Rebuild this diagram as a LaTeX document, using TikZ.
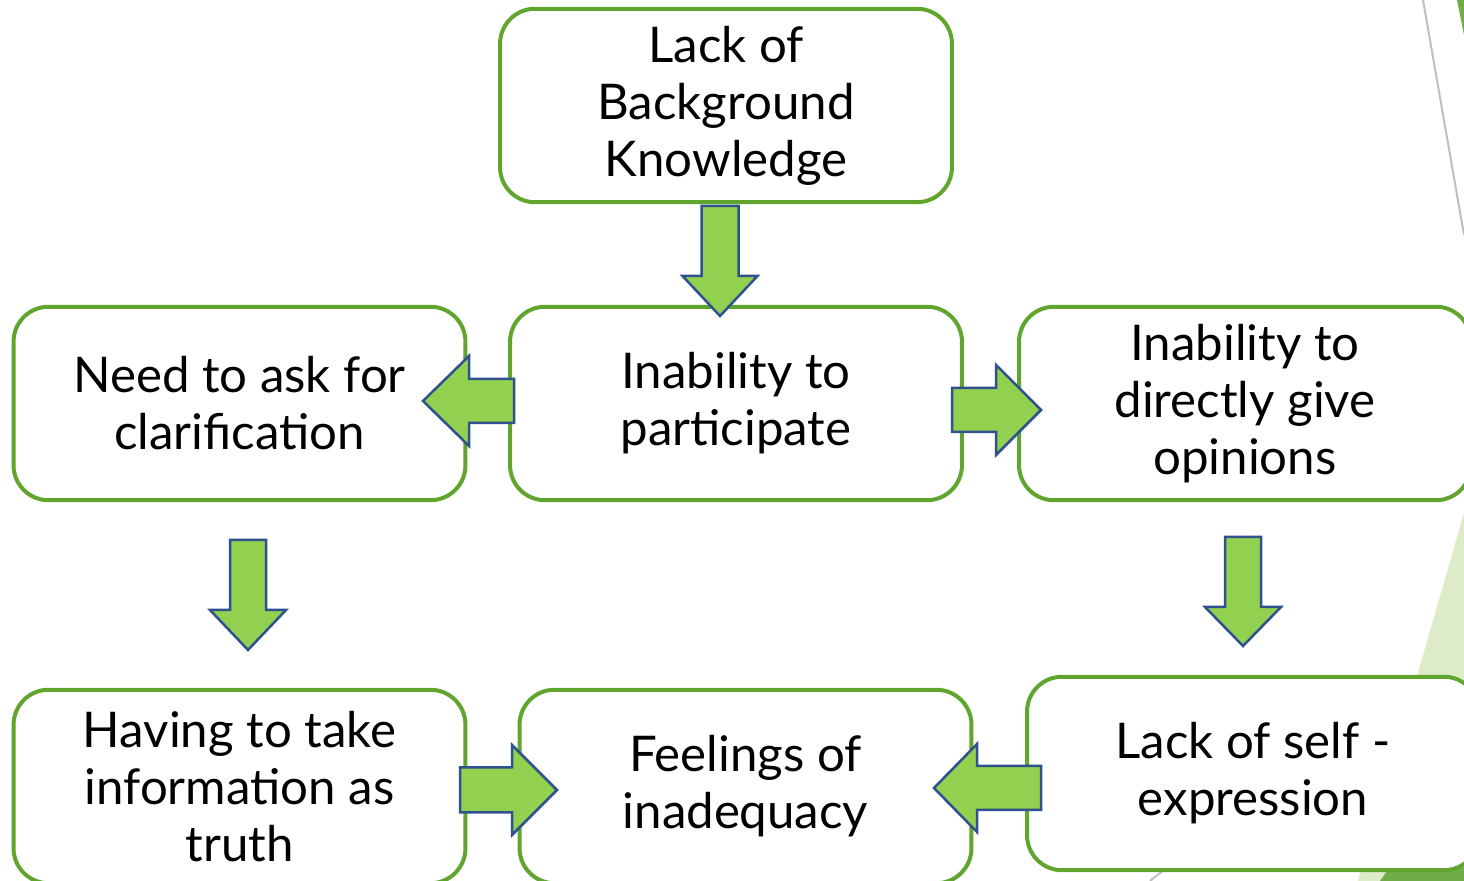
\documentclass[tikz,border=0pt]{standalone}
\usepackage{fontspec}
\setmainfont{Lato}
\usetikzlibrary{positioning}
\definecolor{boxgreen}{RGB}{96,165,45}
\definecolor{arrowfill}{RGB}{146,208,80}
\definecolor{arrowline}{RGB}{47,82,143}
\definecolor{themelight}{RGB}{222,235,200}
\definecolor{themedark}{RGB}{112,173,71}
\definecolor{themegray}{RGB}{191,191,191}

\begin{document}
\begin{tikzpicture}[x=0.02cm, y=0.02cm,
    causebox/.style={rectangle, rounded corners=0.7cm, draw=boxgreen, fill=white,
                line width=0.08cm, minimum width=9.04cm, minimum height=3.87cm,
                align=center, font=\fontsize{28pt}{32.4pt}\selectfont},
    pics/blockarrow/.style n args={4}{code={
        \draw[arrowline, fill=arrowfill, line width=0.05cm, line join=miter]
            (0,-#4) -- ({#1-#2},-#4) -- ({#1-#2},-#3) -- (#1,0)
            -- ({#1-#2},#3) -- ({#1-#2},#4) -- (0,#4) -- cycle;}}]
    \clip (0,0) rectangle (1464,881);

    % Slide theme
    \fill[themelight] (1464,368) -- (1358,0) -- (1464,0) -- cycle;
    \fill[themedark] (1380,0) -- (1464,120) -- (1464,0) -- cycle;
    \fill[themedark] (1457,881) -- (1464,881) -- (1464,846) -- cycle;
    \draw[themegray, line width=0.04cm] (1423,881) -- (1464,646);
    \draw[themegray, line width=0.04cm] (1150,0) -- (1200,40);

    % Boxes
    \node[causebox] (lack) at (726,775.5) {Lack of\\Background\\Knowledge};
    \node[causebox] (clarify) at (239.5,477.5) {Need to ask for\\clarification};
    \node[causebox] (participate) at (736,477.5) {Inability to\\participate};
    \node[causebox] (opinions) at (1245,477.5) {Inability to\\directly give\\opinions};
    \node[causebox] (truth) at (239.5,94.5) {Having to take\\information as\\truth};
    \node[causebox] (inadequacy) at (745.5,94.5) {Feelings of\\inadequacy};
    \node[causebox] (selfexp) at (1253,107.5) {Lack of self -\\expression};

    % Arrows
    \pic[rotate=-90] at (720,675) {blockarrow={110}{40}{37.5}{18.5}};
    \pic[rotate=180] at (514,480) {blockarrow={91}{46}{45}{22}};
    \pic at (952,471) {blockarrow={89}{45}{45}{22}};
    \pic[rotate=-90] at (248,341) {blockarrow={110}{40}{38}{18}};
    \pic[rotate=-90] at (1243,344) {blockarrow={109}{39}{38}{18}};
    \pic at (460,91) {blockarrow={97}{45}{45}{22.5}};
    \pic[rotate=180] at (1041,93) {blockarrow={107}{43}{44}{22}};
\end{tikzpicture}
\end{document}
